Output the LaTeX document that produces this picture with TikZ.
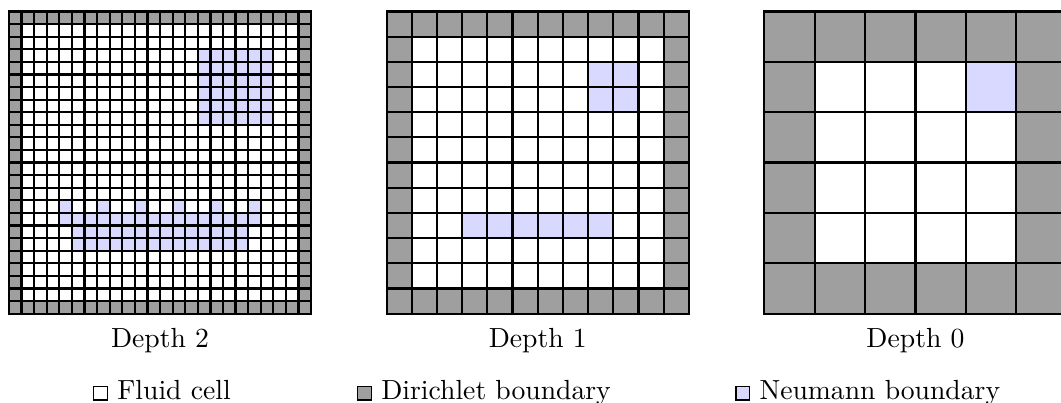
\documentclass[tikz,border=0pt]{standalone}
\usepackage{xcolor,tikz}
\usetikzlibrary{positioning}
\tikzset{
  fluidcell/.style={draw,thick,fill=white},
  dircell/.style={draw,thick,fill=gray!75},
  neucell/.style={draw,thick,fill=blue!15},
  lbl/.style={font=\normalsize,anchor=base},
  keylbl/.style={font=\normalsize,anchor=base west,inner sep=0pt}
}
% small coloured square for the key
\newcommand{\swatch}[1]{{\setlength{\fboxsep}{0pt}\fcolorbox{black}{#1}{\rule{0pt}{4.6pt}\rule{4.6pt}{0pt}}}}
% n x n cells of size s, top-left corner at the origin, boundary ring grey
\newcommand{\cellgrid}[2]{%
  \pgfmathtruncatemacro{\lastc}{#1-1}
  \foreach \r in {0,...,\lastc}
    \foreach \c in {0,...,\lastc}
      \draw[fluidcell] ({\c*#2},{-\r*#2}) rectangle ++(#2,-#2);
  \foreach \k in {0,...,\lastc} {
    \draw[dircell] ({\k*#2},0) rectangle ++(#2,-#2);
    \draw[dircell] ({\k*#2},{-\lastc*#2}) rectangle ++(#2,-#2);
    \draw[dircell] (0,{-\k*#2}) rectangle ++(#2,-#2);
    \draw[dircell] ({\lastc*#2},{-\k*#2}) rectangle ++(#2,-#2);
  }
}
\newcommand{\neu}[3]{\draw[neucell] ({#2*#1},{-#3*#1}) rectangle ++(#1,-#1);}

\begin{document}
\begin{tikzpicture}
  \useasboundingbox (-0.114,-1.135) rectangle (13.37,3.986);

  % depth 2
  \begin{scope}[shift={(0,3.84)}]
    \cellgrid{24}{0.16}
    \foreach \r in {3,...,8}
      \foreach \c in {15,...,20} {\neu{0.16}{\c}{\r}}
    \foreach \c in {4,7,...,19} {\neu{0.16}{\c}{15}}
    \foreach \c in {4,...,19} {\neu{0.16}{\c}{16}}
    \foreach \r in {17,18}
      \foreach \c in {5,...,18} {\neu{0.16}{\c}{\r}}
  \end{scope}

  % depth 1
  \begin{scope}[shift={(4.8,3.84)}]
    \cellgrid{12}{0.32}
    \foreach \r in {2,3}
      \foreach \c in {8,9} {\neu{0.32}{\c}{\r}}
    \foreach \c in {3,...,8} {\neu{0.32}{\c}{8}}
  \end{scope}

  % depth 0
  \begin{scope}[shift={(9.6,3.84)}]
    \cellgrid{6}{0.64}
    \neu{0.64}{4}{1}
  \end{scope}

  \node[lbl] (depthtwo) at (1.92,-0.43) {Depth 2};
  \node[lbl] (depthone) at (6.72,-0.43) {Depth 1};
  \node[lbl] (depthzero) at (11.52,-0.43) {Depth 0};

  % key
  \node[keylbl] (keyfluid) at (1.064,-1.09) {\swatch{white} Fluid cell};
  \node[keylbl] (keydir) at (4.418,-1.09) {\swatch{gray!75} Dirichlet boundary};
  \node[keylbl] (keyneu) at (9.225,-1.09) {\swatch{blue!15} Neumann boundary};
\end{tikzpicture}
\end{document}
